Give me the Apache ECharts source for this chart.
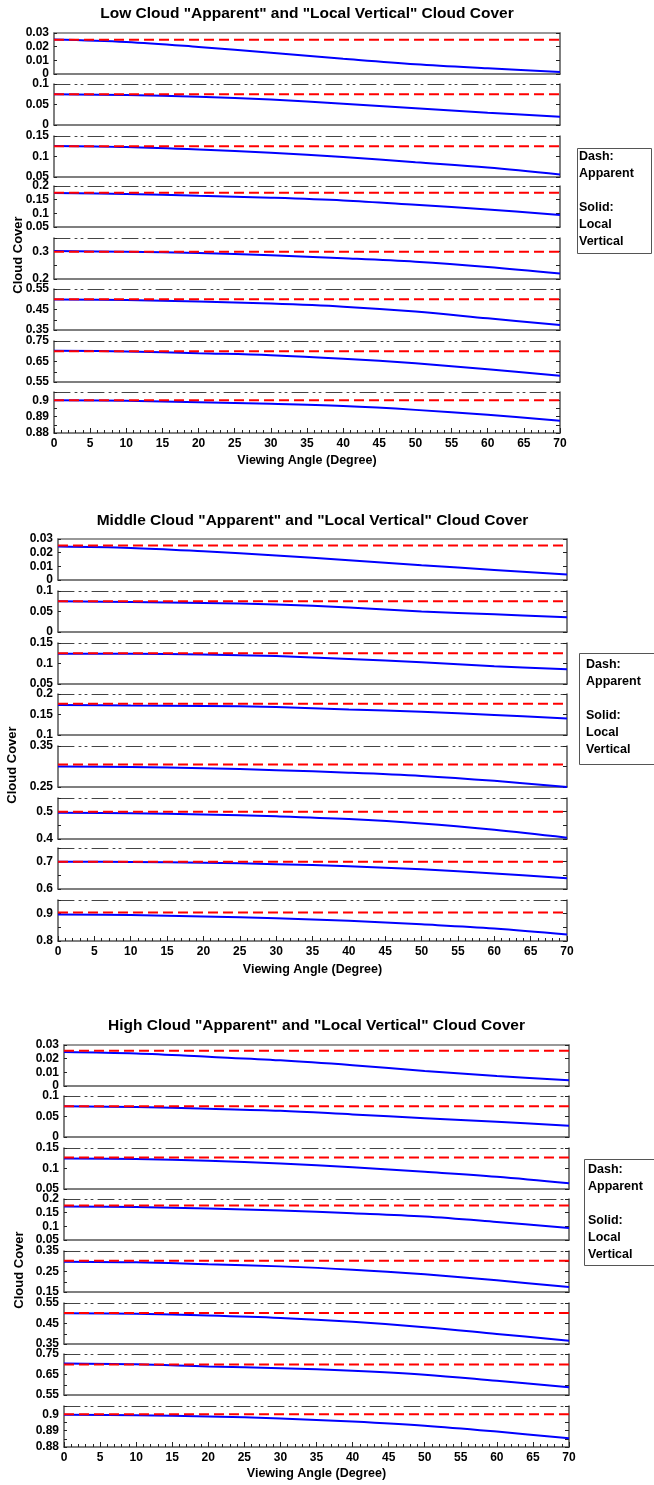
<!DOCTYPE html>
<html>
<head>
<meta charset="utf-8">
<script src="https://cdn.jsdelivr.net/npm/echarts@6/dist/echarts.min.js"></script>
<style>
html, body { margin: 0; padding: 0; background: #fff; }
#main { width: 654px; height: 1485px; }
</style>
</head>
<body>
<div id="main"></div>
<script>
// viewing angle samples (degree)
var angles = [0, 10, 20, 30, 40, 50, 60, 70];

// low cloud
var lowApparent = [0.025, 0.075, 0.125, 0.175, 0.300, 0.500, 0.700, 0.900];
var lowLocal = [
    [0.0253, 0.0235, 0.0198, 0.0155, 0.0112, 0.0072, 0.0042, 0.0015],
    [0.075, 0.073, 0.069, 0.062, 0.052, 0.041, 0.030, 0.020],
    [0.1256, 0.123, 0.117, 0.109, 0.099, 0.086, 0.073, 0.056],
    [0.174, 0.171, 0.164, 0.157, 0.147, 0.131, 0.114, 0.094],
    [0.302, 0.300, 0.295, 0.287, 0.276, 0.263, 0.244, 0.220],
    [0.499, 0.496, 0.489, 0.479, 0.464, 0.440, 0.407, 0.374],
    [0.702, 0.699, 0.690, 0.681, 0.664, 0.641, 0.612, 0.580],
    [0.8999, 0.8996, 0.8988, 0.8978, 0.8964, 0.8941, 0.8911, 0.8875]
];
var lowYRange = [[0, 0.03], [0, 0.1], [0.05, 0.15], [0.05, 0.2], [0.2, 0.35], [0.35, 0.55], [0.55, 0.75], [0.88, 0.905]];
var lowYStep = [0.01, 0.05, 0.05, 0.05, 0.05, 0.05, 0.05, 0.005];
var lowYLabels = [[0, 0.01, 0.02, 0.03], [0, 0.05, 0.1], [0.05, 0.1, 0.15], [0.05, 0.1, 0.15, 0.2], [0.2, 0.3], [0.35, 0.45, 0.55], [0.55, 0.65, 0.75], [0.88, 0.89, 0.9]];

// middle cloud
var midApparent = [0.0252, 0.075, 0.125, 0.176, 0.305, 0.500, 0.700, 0.904];
var midLocal = [
    [0.0245, 0.0235, 0.021, 0.018, 0.0145, 0.0108, 0.0074, 0.0041],
    [0.0749, 0.073, 0.071, 0.067, 0.060, 0.050, 0.043, 0.036],
    [0.124, 0.1235, 0.122, 0.118, 0.111, 0.103, 0.093, 0.086],
    [0.173, 0.172, 0.171, 0.168, 0.162, 0.157, 0.149, 0.140],
    [0.300, 0.299, 0.296, 0.291, 0.285, 0.277, 0.265, 0.250],
    [0.496, 0.494, 0.490, 0.483, 0.473, 0.457, 0.434, 0.405],
    [0.700, 0.699, 0.696, 0.691, 0.683, 0.672, 0.657, 0.639],
    [0.897, 0.895, 0.890, 0.883, 0.874, 0.861, 0.846, 0.824]
];
var midYRange = [[0, 0.03], [0, 0.1], [0.05, 0.15], [0.1, 0.2], [0.25, 0.35], [0.4, 0.55], [0.6, 0.75], [0.8, 0.95]];
var midYStep = [0.01, 0.05, 0.05, 0.05, 0.05, 0.05, 0.05, 0.05];
var midYLabels = [[0, 0.01, 0.02, 0.03], [0, 0.05, 0.1], [0.05, 0.1, 0.15], [0.1, 0.15, 0.2], [0.25, 0.35], [0.4, 0.5], [0.6, 0.7], [0.8, 0.9]];

// high cloud
var highApparent = [0.0258, 0.075, 0.127, 0.176, 0.303, 0.501, 0.699, 0.900];
var highLocal = [
    [0.0249, 0.0238, 0.0214, 0.0188, 0.0152, 0.0110, 0.0073, 0.0042],
    [0.075, 0.073, 0.069, 0.064, 0.055, 0.046, 0.037, 0.0276],
    [0.1244, 0.123, 0.119, 0.112, 0.103, 0.092, 0.080, 0.064],
    [0.173, 0.171, 0.165, 0.158, 0.148, 0.136, 0.116, 0.094],
    [0.298, 0.295, 0.285, 0.275, 0.259, 0.236, 0.207, 0.174],
    [0.500, 0.497, 0.489, 0.477, 0.458, 0.432, 0.399, 0.366],
    [0.704, 0.700, 0.689, 0.681, 0.668, 0.649, 0.619, 0.588],
    [0.8996, 0.8993, 0.8986, 0.8974, 0.8955, 0.8930, 0.8894, 0.8853]
];
var highYRange = [[0, 0.03], [0, 0.1], [0.05, 0.15], [0.05, 0.2], [0.15, 0.35], [0.35, 0.55], [0.55, 0.75], [0.88, 0.905]];
var highYStep = [0.01, 0.05, 0.05, 0.05, 0.05, 0.05, 0.05, 0.005];
var highYLabels = [[0, 0.01, 0.02, 0.03], [0, 0.05, 0.1], [0.05, 0.1, 0.15], [0.05, 0.1, 0.15, 0.2], [0.15, 0.25, 0.35], [0.35, 0.45, 0.55], [0.55, 0.65, 0.75], [0.88, 0.89, 0.9]];

var xMin = 0, xMax = 70, xStep = 5;

var FONT = 'Liberation Sans';

// page layout of the three blocks
var blocks = [
    { title: 'Low Cloud "Apparent" and "Local Vertical" Cloud Cover', app: lowApparent, loc: lowLocal, range: lowYRange, step: lowYStep, labels: lowYLabels,
      left: 54, width: 506, tops: [33, 84, 136, 186, 238, 289, 341, 392],
      titleY: 14, yNameX: 18, yNameY: 255, xNameY: 461, box: [577, 148, 74, 105], textX: 579, textY: 157 },
    { title: 'Middle Cloud "Apparent" and "Local Vertical" Cloud Cover', app: midApparent, loc: midLocal, range: midYRange, step: midYStep, labels: midYLabels,
      left: 58, width: 509, tops: [539, 591, 643, 694, 746, 798, 848, 900],
      titleY: 521, yNameX: 12, yNameY: 765, xNameY: 970, box: [579, 653, 80, 111], textX: 586, textY: 665 },
    { title: 'High Cloud "Apparent" and "Local Vertical" Cloud Cover', app: highApparent, loc: highLocal, range: highYRange, step: highYStep, labels: highYLabels,
      left: 64, width: 505, tops: [1045, 1096, 1148, 1199, 1251, 1303, 1354, 1406],
      titleY: 1026, yNameX: 19, yNameY: 1270, xNameY: 1474, box: [584, 1159, 80, 106], textX: 588, textY: 1170 }
];

function fmt(v) {
    return String(parseFloat(v.toFixed(4)));
}

function labelFormatter(list) {
    return function(val) {
        for (var i = 0; i < list.length; i++) {
            if (Math.abs(list[i] - val) < 1e-7) return fmt(list[i]);
        }
        return '';
    };
}

var grids = [], xAxes = [], yAxes = [], series = [], graphics = [];

blocks.forEach(function(b) {
    for (var p = 0; p < 8; p++) {
        var g = grids.length;
        var last = (p == 7);
        grids.push({ left: b.left, top: b.tops[p], width: b.width, height: 41, outerBoundsMode: 'none' });

        // bottom axis
        xAxes.push({
            type: 'value', gridIndex: g, position: 'bottom', min: xMin, max: xMax, interval: xStep,
            axisLine: { show: true, onZero: false, lineStyle: { color: '#555', width: 1.5 } },
            axisTick: { show: last, inside: true, length: 5, lineStyle: { color: '#222' } },
            minorTick: { show: last, splitNumber: 5, length: 3, lineStyle: { color: '#222' } },
            axisLabel: { show: last, color: '#000', fontFamily: FONT, fontWeight: 'bold', fontSize: 12, margin: 5 },
            splitLine: { show: false }
        });
        // top axis: solid for the first panel, dash-dot for the others
        xAxes.push({
            type: 'value', gridIndex: g, position: 'top', min: xMin, max: xMax, interval: xStep,
            axisLine: { show: true, onZero: false, lineStyle: p == 0 ? { color: '#777', width: 1.5 } : { color: '#444', width: 1, type: [16, 5, 2, 4, 2, 5] } },
            axisTick: { show: false }, axisLabel: { show: false }, splitLine: { show: false }
        });

        var yBase = {
            type: 'value', gridIndex: g, min: b.range[p][0], max: b.range[p][1], interval: b.step[p],
            splitLine: { show: false }
        };
        yAxes.push(Object.assign({}, yBase, {
            position: 'left',
            axisLine: { show: true, onZero: false, lineStyle: { color: '#555', width: 1.5 } },
            axisTick: { show: true, inside: true, length: 3, lineStyle: { color: '#222' } },
            axisLabel: { show: true, color: '#000', fontFamily: FONT, fontWeight: 'bold', fontSize: 12, margin: 5,
                         formatter: labelFormatter(b.labels[p]) }
        }));
        yAxes.push(Object.assign({}, yBase, {
            position: 'right',
            axisLine: { show: true, onZero: false, lineStyle: { color: '#555', width: 1.5 } },
            axisTick: { show: true, inside: true, length: 4, lineStyle: { color: '#222' } },
            axisLabel: { show: false }
        }));

        var xi = xAxes.length - 2, yi = yAxes.length - 2;
        var locVals = b.loc[p], appVal = b.app[p];
        series.push({
            type: 'line', xAxisIndex: xi, yAxisIndex: yi, showSymbol: false, smooth: 0.35,
            lineStyle: { color: '#0000ff', width: 2 },
            data: angles.map(function(a, i) { return [a, locVals[i]]; })
        });
        series.push({
            type: 'line', xAxisIndex: xi, yAxisIndex: yi, showSymbol: false,
            lineStyle: { color: '#ff0000', width: 2, type: [10, 5] },
            data: angles.map(function(a) { return [a, appVal]; })
        });
    }

    var cx = b.left + b.width / 2;
    var txt = function(x, y, s, size, align, rot) {
        graphics.push({
            type: 'text', x: x, y: y, rotation: rot || 0,
            style: { text: s, font: 'bold ' + size + 'px "' + FONT + '"', fill: '#000',
                     textAlign: align, align: align, textVerticalAlign: 'middle', verticalAlign: 'middle' }
        });
    };
    txt(cx, b.titleY, b.title, 15.5, 'center');
    txt(cx, b.xNameY, 'Viewing Angle (Degree)', 12.5, 'center');
    txt(b.yNameX, b.yNameY, 'Cloud Cover', 13, 'center', Math.PI / 2);

    graphics.push({
        type: 'rect', shape: { x: b.box[0] + 0.5, y: b.box[1] + 0.5, width: b.box[2], height: b.box[3] },
        style: { fill: '#fff', stroke: '#555', lineWidth: 1 }
    });
    var lines = ['Dash:', 'Apparent', '', 'Solid:', 'Local', 'Vertical'];
    lines.forEach(function(s, i) {
        if (s) txt(b.textX, b.textY + i * 17, s, 12.5, 'left');
    });
});

var myChart = echarts.init(document.getElementById('main'));
var option = {
    animation: false,
    backgroundColor: '#fff',
    grid: grids,
    xAxis: xAxes,
    yAxis: yAxes,
    series: series,
    graphic: graphics
};
myChart.setOption(option);
</script>
</body>
</html>
